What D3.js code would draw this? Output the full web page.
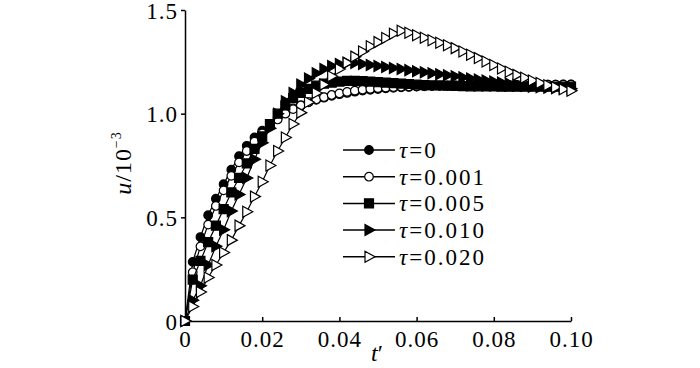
<!DOCTYPE html>
<html><head><meta charset="utf-8">
<script src="https://cdn.jsdelivr.net/npm/d3@7"></script>
<style>
html,body{margin:0;padding:0;background:#fff;}
svg{display:block;font-family:"Liberation Serif","Times New Roman",serif;}
</style></head>
<body><svg id="c" width="700" height="368"></svg>
<script>
const tValues = [0,0.002,0.004,0.006,0.008,0.010,0.012,0.014,0.016,0.018,0.020,
0.022,0.024,0.026,0.028,0.030,0.032,0.034,0.036,0.038,0.040,
0.042,0.044,0.046,0.048,0.050,0.052,0.054,0.056,0.058,0.060,
0.062,0.064,0.066,0.068,0.070,0.072,0.074,0.076,0.078,0.080,
0.082,0.084,0.086,0.088,0.090,0.092,0.094,0.096,0.098,0.100];

const uTau0 = [0,0.285,0.405,0.51,0.59,0.66,0.73,0.795,0.845,0.885,0.918,
0.95,0.98,1.005,1.025,1.04,1.055,1.067,1.077,1.086,1.094,
1.10,1.106,1.111,1.115,1.119,1.122,1.125,1.127,1.129,1.131,
1.132,1.133,1.134,1.135,1.135,1.136,1.136,1.137,1.137,1.138,
1.138,1.138,1.139,1.139,1.139,1.14,1.14,1.14,1.141,1.141];

const uTau001 = [0,0.235,0.36,0.465,0.555,0.63,0.70,0.765,0.82,0.865,0.905,
0.94,0.972,1.0,1.022,1.04,1.056,1.069,1.08,1.09,1.098,
1.105,1.111,1.116,1.12,1.123,1.126,1.128,1.13,1.131,1.132,
1.133,1.134,1.135,1.135,1.136,1.136,1.137,1.137,1.137,1.138,
1.138,1.138,1.139,1.139,1.139,1.139,1.14,1.14,1.14,1.14];

const uTau005 = [0,0.20,0.29,0.38,0.46,0.54,0.62,0.69,0.76,0.83,0.89,
0.95,1.00,1.04,1.075,1.10,1.12,1.135,1.145,1.15,1.155,
1.158,1.158,1.157,1.155,1.152,1.15,1.147,1.145,1.143,1.14,
1.138,1.137,1.136,1.135,1.134,1.133,1.132,1.132,1.131,1.131,
1.13,1.13,1.13,1.13,1.13,1.13,1.13,1.13,1.13,1.13];

const uTau010 = [0,0.10,0.17,0.27,0.36,0.44,0.53,0.61,0.69,0.78,0.86,
0.93,1.00,1.06,1.10,1.14,1.17,1.195,1.215,1.23,1.24,
1.245,1.245,1.24,1.235,1.23,1.225,1.22,1.215,1.21,1.205,
1.20,1.195,1.19,1.185,1.18,1.175,1.17,1.165,1.16,1.155,
1.15,1.145,1.14,1.135,1.13,1.127,1.125,1.123,1.121,1.12];

const uTau020 = [0,0.07,0.14,0.21,0.27,0.33,0.39,0.46,0.527,0.60,0.672,
0.75,0.82,0.885,0.95,1.005,1.055,1.10,1.14,1.18,1.215,
1.245,1.275,1.30,1.325,1.345,1.365,1.385,1.40,1.39,1.378,
1.366,1.354,1.342,1.33,1.316,1.30,1.284,1.268,1.252,1.235,
1.218,1.202,1.187,1.173,1.16,1.148,1.137,1.127,1.118,1.11];

const tauLabels = ["0","0.001","0.005","0.010","0.020"];
const xTicks = [0,0.02,0.04,0.06,0.08,0.10];
const xTickLabels = ["0","0.02","0.04","0.06","0.08","0.10"];
const yTicks = [0,0.5,1.0,1.5];
const yTickLabels = ["0","0.5","1.0","1.5"];

const seriesValues = [uTau0,uTau001,uTau005,uTau010,uTau020];
const markerKinds = ["circleFill","circleOpen","square","triFill","triOpen"];

const svg = d3.select("#c");
const x = d3.scaleLinear().domain([0,0.1]).range([185,571]);
const y = d3.scaleLinear().domain([0,1.5]).range([321,10]);
const FS = 23;

function markerPath(kind){
  if(kind.startsWith("circle")) return d3.symbol(d3.symbolCircle, 58)();
  if(kind==="square") return "M-4.5,-4.5H4.5V4.5H-4.5Z";
  return "M-4,-5.5L6,0L-4,5.5Z";
}
function markerFill(kind){ return (kind==="circleOpen"||kind==="triOpen") ? "#fff" : "#000"; }

// axes
const xAxis = d3.axisBottom(x).tickValues(xTicks).tickSizeInner(-4).tickSizeOuter(0)
  .tickFormat((d,i)=>xTickLabels[i]).tickPadding(10);
const gx = svg.append("g").attr("transform","translate(0,321)").call(xAxis);
gx.select(".domain").attr("stroke","#000").attr("stroke-width",1.5);
gx.selectAll(".tick line").attr("stroke","#000").attr("stroke-width",1.5);
gx.selectAll("text").attr("font-size",FS).attr("font-family","Liberation Serif")
  .attr("letter-spacing","1px").attr("fill","#000").attr("dy","0.71em");

const yAxis = d3.axisLeft(y).tickValues(yTicks).tickSizeInner(4).tickSizeOuter(0)
  .tickFormat((d,i)=>yTickLabels[i]).tickPadding(3);
const gy = svg.append("g").attr("transform","translate(185,0)").call(yAxis);
gy.select(".domain").attr("stroke","#000").attr("stroke-width",1.5);
gy.selectAll(".tick line").attr("stroke","#000").attr("stroke-width",1.5);
gy.selectAll("text").attr("font-size",FS).attr("font-family","Liberation Serif")
  .attr("letter-spacing","1px").attr("fill","#000").attr("dy","0.36em");

// series
const line = d3.line().x((d,i)=>x(tValues[i])).y(d=>y(d));
seriesValues.forEach((vals,si)=>{
  const g = svg.append("g");
  g.append("path").attr("d",line(vals)).attr("fill","none").attr("stroke","#000").attr("stroke-width",1.2);
  g.selectAll("path.m").data(vals).enter().append("path").attr("class","m")
    .attr("d",markerPath(markerKinds[si]))
    .attr("transform",(d,i)=>`translate(${x(tValues[i])},${y(d)})`)
    .attr("fill",markerFill(markerKinds[si])).attr("stroke","#000").attr("stroke-width",1.2);
});

// legend
const lg = svg.append("g");
tauLabels.forEach((lab,i)=>{
  const yy = 150 + i*26.7;
  lg.append("line").attr("x1",343).attr("x2",395).attr("y1",yy).attr("y2",yy).attr("stroke","#000").attr("stroke-width",1.5);
  lg.append("path").attr("d",markerPath(markerKinds[i])).attr("transform",`translate(369,${yy})`)
    .attr("fill",markerFill(markerKinds[i])).attr("stroke","#000").attr("stroke-width",1.2);
  const t = lg.append("text").attr("x",399).attr("y",yy+8).attr("font-size",FS)
    .attr("letter-spacing","2px").attr("fill","#000");
  t.append("tspan").attr("font-style","italic").text("τ");
  t.append("tspan").text("=" + lab);
});

// axis titles
const yl = svg.append("text").attr("transform","translate(131,163) rotate(-90)")
  .attr("text-anchor","middle").attr("font-size",24).attr("letter-spacing","1px").attr("fill","#000");
yl.append("tspan").attr("font-style","italic").text("u");
yl.append("tspan").text("/10");
yl.append("tspan").attr("font-size",14).attr("dy",-10).text("−3");

const xl = svg.append("text").attr("x",377).attr("y",361).attr("text-anchor","middle")
  .attr("font-size",24).attr("fill","#000");
xl.append("tspan").attr("font-style","italic").text("t");
xl.append("tspan").text("′");
</script></body></html>
